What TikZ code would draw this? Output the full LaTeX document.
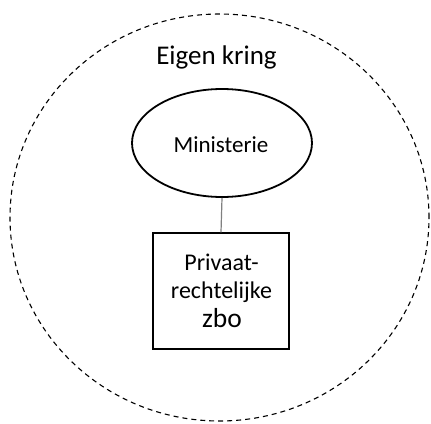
\documentclass[tikz,border=0pt]{standalone}
\usepackage{fontspec}
\setmainfont{Carlito}
\usetikzlibrary{shapes.geometric}
\begin{document}
\begin{tikzpicture}[x=1pt,y=-1pt,
  ring/.style={draw=black,dash pattern=on 5pt off 4pt,line width=1.1pt},
  ellnode/.style={draw=black,line width=1.8pt,ellipse,minimum width=180pt,minimum height=108pt,inner sep=0pt},
  boxnode/.style={draw=black,line width=1.3pt,rectangle,minimum width=136pt,minimum height=116pt,inner sep=0pt},
  txt/.style={anchor=base,inner sep=0pt},
  conn/.style={draw=gray,line width=1.2pt}]
\useasboundingbox (0,0) rectangle (431,423);
\node[ring,ellipse,minimum width=419pt,minimum height=407pt,inner sep=0pt] (circle) at (219.5,217.5) {};
\node[txt,font=\fontsize{27}{32}\selectfont] (title) at (216.5,64) {Eigen kring};
\node[ellnode] (min) at (222,143) {};
\node[txt,font=\fontsize{23}{28}\selectfont] (mintext) at (221,152) {Ministerie};
\node[boxnode] (zbo) at (221,291) {};
\node[txt,font=\fontsize{24}{28}\selectfont] (l1) at (221.5,270) {Privaat-};
\node[txt,font=\fontsize{24}{28}\selectfont] (l2) at (221.5,298) {rechtelijke};
\node[txt,font=\fontsize{27.5}{32}\selectfont] (l3) at (222,327) {zbo};
\draw[conn] (min.south) -- (zbo.north);
\end{tikzpicture}
\end{document}
